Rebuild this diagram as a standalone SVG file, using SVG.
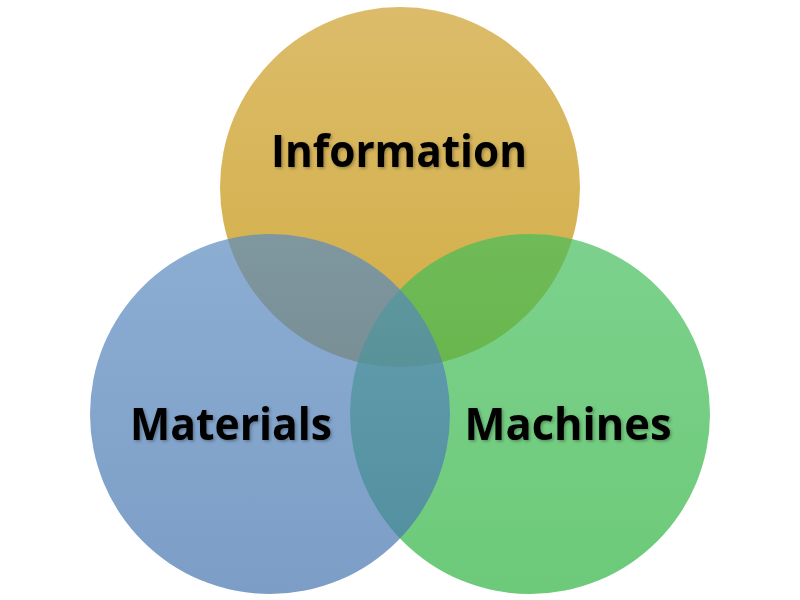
<svg xmlns="http://www.w3.org/2000/svg" width="800" height="600" viewBox="0 0 800 600">
  <defs>
    <linearGradient id="gGold" x1="0" y1="0" x2="0" y2="1">
      <stop offset="0" stop-color="#DCBC6A"/>
      <stop offset="1" stop-color="#D2AD45"/>
    </linearGradient>
    <linearGradient id="gBlue" x1="0" y1="0" x2="0" y2="1">
      <stop offset="0" stop-color="#5A8BC0"/>
      <stop offset="1" stop-color="#4473AD"/>
    </linearGradient>
    <linearGradient id="gGreen" x1="0" y1="0" x2="0" y2="1">
      <stop offset="0" stop-color="#44BE5B"/>
      <stop offset="1" stop-color="#2EB340"/>
    </linearGradient>
    <filter id="shadow" x="-10%" y="-30%" width="120%" height="160%">
      <feDropShadow dx="1.5" dy="1.5" stdDeviation="1.5" flood-color="#000" flood-opacity="0.3"/>
    </filter>
  </defs>
  <style>
    .lbl { font-family: "Open Sans", "Liberation Sans", sans-serif; font-weight: 700; font-size: 45px; fill: #000; text-anchor: middle; filter: url(#shadow); }
    .c { opacity: 0.7; }
  </style>
  <rect width="800" height="600" fill="#FFFFFF"/>
  <g id="information">
    <circle cx="400" cy="187" r="180" fill="url(#gGold)"/>
  </g>
  <g id="machines">
    <circle class="c" cx="530" cy="414" r="180" fill="url(#gGreen)"/>
  </g>
  <g id="materials">
    <circle class="c" cx="270" cy="414" r="180" fill="url(#gBlue)"/>
  </g>
  <g id="labels">
    <text class="lbl" x="399" y="167" textLength="256" lengthAdjust="spacingAndGlyphs">Information</text>
    <text class="lbl" x="231" y="440" textLength="202" lengthAdjust="spacingAndGlyphs">Materials</text>
    <text class="lbl" x="568" y="440" textLength="207" lengthAdjust="spacingAndGlyphs">Machines</text>
  </g>
</svg>
